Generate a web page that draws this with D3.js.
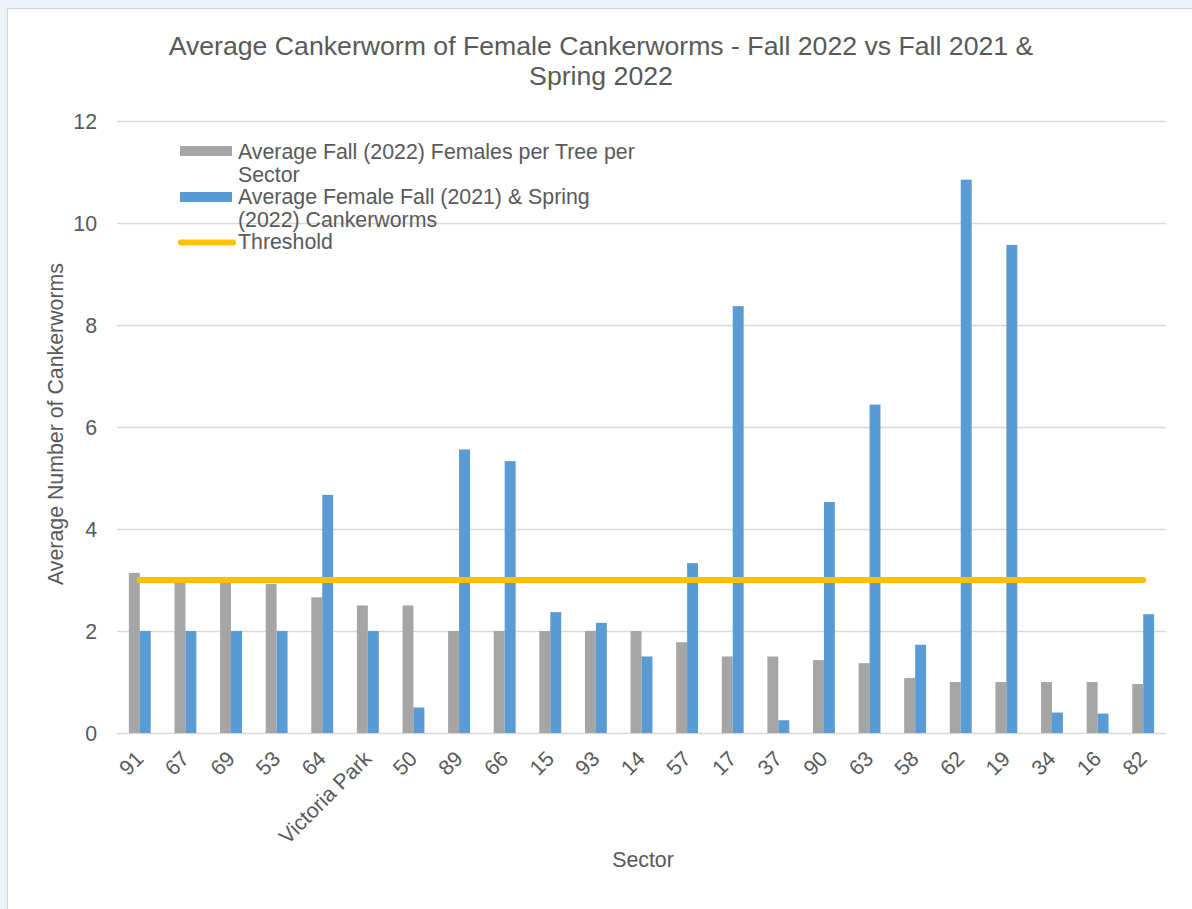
<!DOCTYPE html>
<html>
<head>
<meta charset="utf-8">
<script src="https://cdn.jsdelivr.net/npm/d3@7"></script>
<style>
  html, body { margin: 0; padding: 0; background: #edf3fa; }
  svg { display: block; font-family: "Liberation Sans", Arial, sans-serif; }
</style>
</head>
<body>
<script>
// sectors, in the order shown on the chart
var sectors = ["91", "67", "69", "53", "64", "Victoria Park", "50", "89", "66", "15", "93",
               "14", "57", "17", "37", "90", "63", "58", "62", "19", "34", "16", "82"];
// Average Fall (2022) Females per Tree per Sector
var fall2022 = [3.14, 3.0, 3.0, 2.92, 2.66, 2.5, 2.5, 2.0, 2.0, 2.0, 2.0,
                2.0, 1.78, 1.5, 1.5, 1.43, 1.37, 1.08, 1.0, 1.0, 1.0, 1.0, 0.96];
// Average Female Fall (2021) & Spring (2022) Cankerworms
var fallSpring = [2.0, 2.0, 2.0, 2.0, 4.67, 2.0, 0.5, 5.56, 5.33, 2.37, 2.16,
                  1.5, 3.33, 8.37, 0.25, 4.53, 6.44, 1.73, 10.85, 9.57, 0.4, 0.38, 2.33];
// Threshold
var threshold = [3, 3, 3, 3, 3, 3, 3, 3, 3, 3, 3, 3, 3, 3, 3, 3, 3, 3, 3, 3, 3, 3, 3];
var yTicks = [0, 2, 4, 6, 8, 10, 12];
var seriesNames = ["Average Fall (2022) Females per Tree per Sector",
                   "Average Female Fall (2021) & Spring (2022) Cankerworms",
                   "Threshold"];

var width = 1192, height = 909,
    plot = { left: 117, right: 1166, top: 121, bottom: 733 },
    grey = "#a5a5a5", blue = "#5b9bd5", gold = "#ffc000",
    textCol = "#595959", gridCol = "#d9d9d9",
    fontSize = "21.33px";

var svg = d3.select("body").append("svg")
    .attr("width", width)
    .attr("height", height);

// chart area
svg.append("rect")
    .attr("x", 7.5).attr("y", 8.5)
    .attr("width", width).attr("height", height)
    .attr("fill", "#ffffff")
    .attr("stroke", "#d4d4d4");

var x0 = d3.scaleBand()
    .domain(sectors)
    .range([plot.left, plot.right])
    .paddingInner(0.52)
    .paddingOuter(0.26);

var x1 = d3.scaleBand()
    .domain([0, 1])
    .range([0, x0.bandwidth()]);

var y = d3.scaleLinear()
    .domain([0, 12])
    .range([plot.bottom, plot.top]);

// grid
svg.append("g")
    .selectAll("line")
    .data(yTicks)
    .join("line")
    .attr("x1", plot.left).attr("x2", plot.right)
    .attr("y1", function (d) { return Math.round(y(d)) + 0.5; })
    .attr("y2", function (d) { return Math.round(y(d)) + 0.5; })
    .attr("stroke", gridCol)
    .attr("stroke-width", 1.5);

// y axis labels
var yAxis = d3.axisLeft(y).tickValues(yTicks).tickSize(0).tickPadding(0);
var yg = svg.append("g")
    .attr("transform", "translate(" + 97 + ",0)")
    .call(yAxis);
yg.select(".domain").remove();
yg.selectAll("text")
    .attr("fill", textCol)
    .style("font-size", fontSize)
    .attr("dy", "0.36em");

// bars
var groups = svg.append("g")
    .selectAll("g")
    .data(sectors)
    .join("g")
    .attr("transform", function (d) { return "translate(" + x0(d) + ",0)"; });

groups.append("rect")
    .attr("x", x1(0))
    .attr("width", x1.bandwidth())
    .attr("y", function (d, i) { return y(fall2022[i]); })
    .attr("height", function (d, i) { return y(0) - y(fall2022[i]); })
    .attr("fill", grey);

groups.append("rect")
    .attr("x", x1(1))
    .attr("width", x1.bandwidth())
    .attr("y", function (d, i) { return y(fallSpring[i]); })
    .attr("height", function (d, i) { return y(0) - y(fallSpring[i]); })
    .attr("fill", blue);

// threshold line
var line = d3.line()
    .x(function (d, i) { return x0(sectors[i]) + x0.bandwidth() / 2; })
    .y(function (d) { return y(d); });

svg.append("path")
    .datum(threshold)
    .attr("d", line)
    .attr("fill", "none")
    .attr("stroke", gold)
    .attr("stroke-width", 6)
    .attr("stroke-linecap", "round");

// x axis labels
var xAxis = d3.axisBottom(x0).tickSize(0).tickPadding(0);
var xg = svg.append("g")
    .attr("transform", "translate(0," + plot.bottom + ")")
    .call(xAxis);
xg.select(".domain").remove();
xg.selectAll("text")
    .attr("fill", textCol)
    .style("font-size", fontSize)
    .attr("text-anchor", "end")
    .attr("dy", null)
    .attr("y", 0)
    .attr("transform", "translate(5,27) rotate(-45)");

// titles
var title = svg.append("text")
    .attr("text-anchor", "middle")
    .attr("fill", textCol)
    .style("font-size", "26.67px");
title.append("tspan").attr("x", 601).attr("y", 55)
    .text("Average Cankerworm of Female Cankerworms - Fall 2022 vs Fall 2021 &");
title.append("tspan").attr("x", 601).attr("y", 85)
    .text("Spring 2022");

svg.append("text")
    .attr("x", 643).attr("y", 867)
    .attr("text-anchor", "middle")
    .attr("fill", textCol)
    .style("font-size", fontSize)
    .text("Sector");

svg.append("text")
    .attr("transform", "translate(63,424) rotate(-90)")
    .attr("text-anchor", "middle")
    .attr("fill", textCol)
    .style("font-size", fontSize)
    .text("Average Number of Cankerworms");

// legend
var legend = svg.append("g").attr("transform", "translate(180,0)");
legend.append("rect").attr("x", 0).attr("y", 146).attr("width", 52).attr("height", 10).attr("fill", grey);
legend.append("rect").attr("x", 0).attr("y", 192).attr("width", 52).attr("height", 10).attr("fill", blue);
legend.append("line")
    .attr("x1", 1).attr("x2", 53).attr("y1", 242.5).attr("y2", 242.5)
    .attr("stroke", gold).attr("stroke-width", 6).attr("stroke-linecap", "round");

var legendLines = [
    ["Average Fall (2022) Females per Tree per", "Sector"],
    ["Average Female Fall (2021) & Spring", "(2022) Cankerworms"],
    ["Threshold"]
];
var legendY = [159, 204, 249];
legendLines.forEach(function (lines, k) {
    var t = legend.append("text")
        .attr("fill", textCol)
        .style("font-size", fontSize)
        .attr("aria-label", seriesNames[k]);
    lines.forEach(function (s, j) {
        t.append("tspan").attr("x", 58).attr("y", legendY[k] + j * 23).text(s);
    });
});
</script>
</body>
</html>
